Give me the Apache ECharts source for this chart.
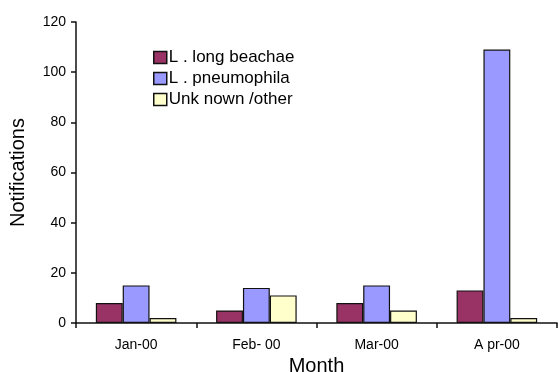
<!DOCTYPE html>
<html>
<head>
<meta charset="utf-8">
<script src="https://cdn.jsdelivr.net/npm/echarts@6/dist/echarts.min.js"></script>
<style>
  html, body { margin: 0; padding: 0; background: #fff; }
  #chart { width: 558px; height: 372px; }
</style>
</head>
<body>
<div id="chart"></div>
<script>
// Monthly notifications by organism
const months = ['Jan-00', 'Feb- 00', 'Mar-00', 'A pr-00'];
const longbeachae = [8, 5, 8, 13];
const pneumophila = [15, 14, 15, 109];
const unknownOther = [2, 11, 5, 2];
const seriesNames = ['L . long beachae', 'L . pneumophila', 'Unk nown /other'];
const seriesColors = ['#993366', '#9999FF', '#FFFFCC'];
const yTicks = [0, 20, 40, 60, 80, 100, 120];

const font = 'Arial, "Liberation Sans", sans-serif';
const chart = echarts.init(document.getElementById('chart'), null, { renderer: 'canvas' });

const values = [longbeachae, pneumophila, unknownOther];
const series = values.map((data, i) => ({
  name: seriesNames[i],
  type: 'bar',
  data: data,
  barGap: '0%',
  barCategoryGap: '33%',
  itemStyle: { color: seriesColors[i], borderColor: '#111', borderWidth: 1.2 }
}));

chart.setOption({
  animation: false,
  backgroundColor: '#fff',
  grid: { left: 76, right: 1, top: 22, bottom: 49, containLabel: false, outerBoundsMode: 'none' },
  legend: {
    orient: 'vertical',
    left: 148,
    top: 44,
    itemWidth: 13,
    itemHeight: 12,
    itemGap: 4,
    icon: 'rect',
    textStyle: { fontFamily: font, fontSize: 17, color: '#000', padding: [0, 0, 0, -3] },
    data: seriesNames.map((n, i) => ({
      name: n,
      itemStyle: { color: seriesColors[i], borderColor: '#111', borderWidth: 1.5 }
    }))
  },
  xAxis: {
    type: 'category',
    data: months,
    boundaryGap: true,
    name: 'Month',
    nameLocation: 'middle',
    nameGap: 31,
    nameTextStyle: { fontFamily: font, fontSize: 20, color: '#000' },
    axisLine: { lineStyle: { color: '#111', width: 1.5 } },
    axisTick: { show: true, length: 5, lineStyle: { color: '#111', width: 1.5 } },
    axisLabel: { fontFamily: font, fontSize: 14, color: '#000', margin: 15 },
    splitLine: { show: false }
  },
  yAxis: {
    type: 'value',
    min: yTicks[0],
    max: yTicks[yTicks.length - 1],
    interval: 20,
    name: 'Notifications',
    nameLocation: 'middle',
    nameGap: 48,
    nameTextStyle: { fontFamily: font, fontSize: 20, color: '#000' },
    axisLine: { show: true, lineStyle: { color: '#111', width: 1.5 } },
    axisTick: { show: true, length: 5, lineStyle: { color: '#111', width: 1.5 } },
    axisLabel: { fontFamily: font, fontSize: 14, color: '#000', margin: 10 },
    splitLine: { show: false }
  },
  series: series
});
</script>
</body>
</html>
